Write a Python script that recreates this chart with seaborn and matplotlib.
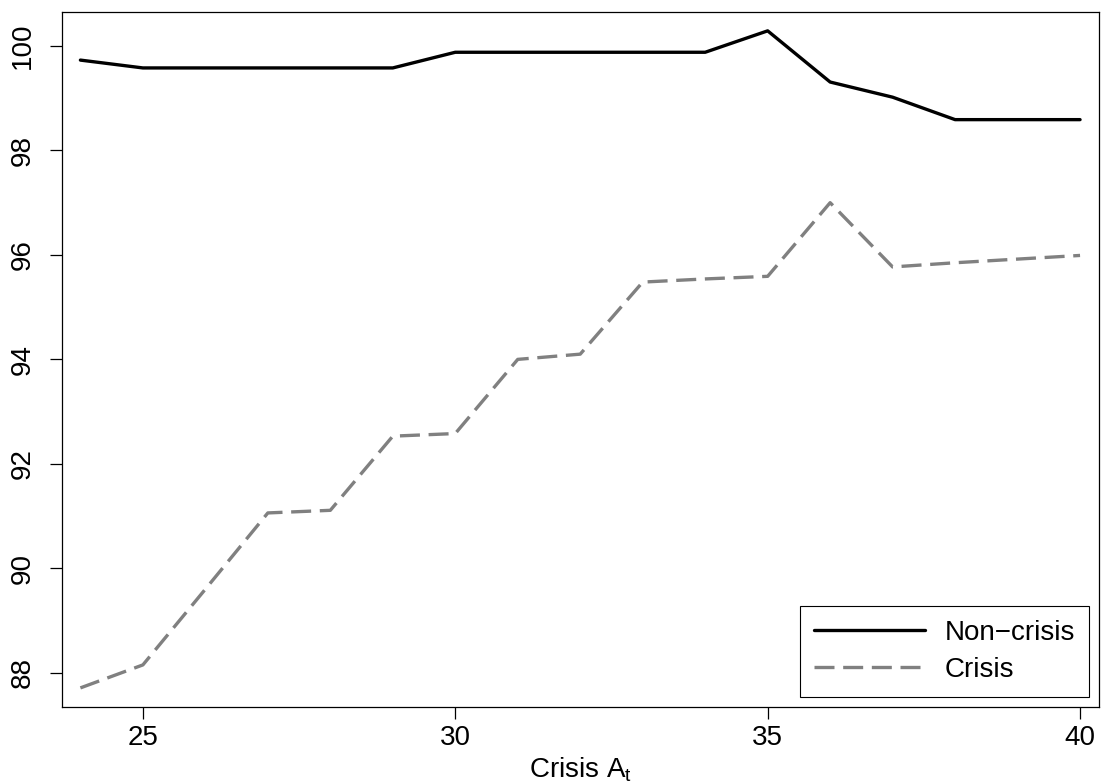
import pandas as pd
import matplotlib
matplotlib.use("Agg")
import matplotlib.pyplot as plt
import seaborn as sns

# values
crisis_at = [24, 25, 26, 27, 28, 29, 30, 31, 32, 33, 34, 35, 36, 37, 38, 39, 40]
non_crisis = [99.73, 99.58, 99.58, 99.58, 99.58, 99.58, 99.88, 99.88, 99.88,
              99.88, 99.88, 100.29, 99.31, 99.02, 98.59, 98.59, 98.59]
crisis = [87.71, 88.15, 89.60, 91.06, 91.11, 92.53, 92.58, 94.00, 94.10,
          95.48, 95.54, 95.59, 97.00, 95.77, 95.85, 95.92, 95.99]
series_names = ["Non\u2212crisis", "Crisis"]
x_ticks = [25, 30, 35, 40]
y_ticks = [88, 90, 92, 94, 96, 98, 100]

sns.set_style("white")
plt.rcParams["font.family"] = ["Liberation Sans", "DejaVu Sans"]
plt.rcParams["mathtext.default"] = "regular"
plt.rcParams["text.color"] = "black"
plt.rcParams["axes.labelcolor"] = "black"
plt.rcParams["xtick.color"] = "black"
plt.rcParams["ytick.color"] = "black"

df = pd.concat([
    pd.DataFrame({"x": crisis_at, "y": non_crisis, "Series": series_names[0]}),
    pd.DataFrame({"x": crisis_at, "y": crisis, "Series": series_names[1]}),
], ignore_index=True)

fig = plt.figure(figsize=(11.01, 7.84), dpi=100)
ax = fig.add_axes([0.056, 0.0986, 0.942, 0.8857])

palette = {series_names[0]: "black", series_names[1]: "#808080"}
dashes = {series_names[0]: "", series_names[1]: (6, 2.6)}
sns.lineplot(data=df, x="x", y="y", hue="Series", style="Series",
             palette=palette, dashes=dashes, linewidth=2.4, ax=ax)

fs = 20
ax.set_xlim(23.7, 40.3)
ax.set_ylim(87.35, 100.645)
ax.set_xticks(x_ticks)
ax.set_yticks(y_ticks)
ax.set_xlabel("Crisis A$_t$", fontsize=fs, labelpad=3)
ax.set_ylabel("")

for s in ax.spines.values():
    s.set_visible(True)
    s.set_color("black")
    s.set_linewidth(0.9)

ax.tick_params(axis="both", which="major", direction="out", length=8.5,
               width=0.9, labelsize=fs, bottom=True, left=True)
ax.tick_params(axis="x", pad=5)
ax.tick_params(axis="y", pad=10)
for lab in ax.get_yticklabels():
    lab.set_rotation(90)
    lab.set_va("center")

handles, labels = ax.get_legend_handles_labels()
leg = ax.legend(handles, labels, loc="lower right", fontsize=fs,
                handlelength=4.0, handletextpad=0.7, labelspacing=0.4,
                borderpad=0.5, borderaxespad=0.35, fancybox=False,
                framealpha=1, edgecolor="black")
leg.get_frame().set_linewidth(0.8)

fig.savefig("out.png", dpi=100)
